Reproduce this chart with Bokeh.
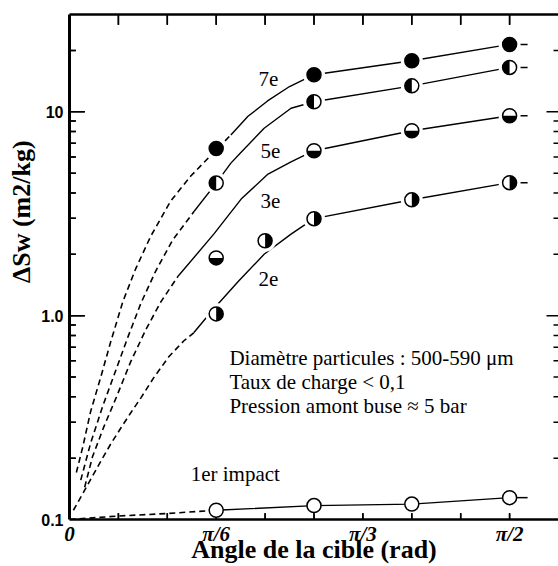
import numpy as np
from bokeh.plotting import figure
from bokeh.models import FixedTicker, LinearAxis
from bokeh.core.properties import value
from bokeh.embed import file_html
from bokeh.resources import INLINE

# ---------------- data (angle in degrees, ΔSw in m2/kg) ----------------
angle_deg = [30, 50, 70, 90]
impact7_sw = [6.6, 15.2, 17.8, 21.4]
impact5_sw = [4.47, 11.2, 13.4, 16.5]
impact3_sw = [1.92, 6.44, 8.07, 9.56]
impact2_deg = [30, 40, 50, 70, 90]
impact2_sw = [1.02, 2.33, 2.99, 3.70, 4.49]
impact1_sw = [0.111, 0.117, 0.119, 0.128]

# hand-drawn trend curves (dashed extrapolation + solid part)
fit7_dash_deg = [1.4, 2.7, 4.3, 6.4, 8.4, 10.9, 13.5, 16.6, 20.7, 24.8, 30, 33]
fit7_dash_sw = [0.17, 0.226, 0.337, 0.50, 0.74, 1.17, 1.69, 2.45, 3.65, 4.84, 6.5, 7.7]
fit7_solid_deg = [33, 36.5, 40.5, 45, 50, 70, 90]
fit7_solid_sw = [7.7, 9.5, 11.3, 13.3, 15.2, 17.8, 21.4]

fit5_dash_deg = [2.3, 4.3, 6.8, 9.6, 11.9, 14.6, 17.6, 21.1, 25.5]
fit5_dash_sw = [0.156, 0.236, 0.36, 0.55, 0.78, 1.15, 1.65, 2.35, 3.25]
fit5_solid_deg = [25.5, 30, 33, 35, 39.8, 45.3, 50, 70, 90]
fit5_solid_sw = [3.25, 4.47, 5.6, 6.3, 8.3, 10.4, 11.2, 13.4, 16.5]

fit3_dash_deg = [3.1, 4.7, 7.0, 9.6, 12.5, 15.6, 18.7, 22.2]
fit3_dash_sw = [0.144, 0.203, 0.284, 0.399, 0.593, 0.853, 1.17, 1.56]
fit3_solid_deg = [22.2, 29.5, 35.1, 40.6, 45.3, 50, 70, 90]
fit3_solid_sw = [1.56, 2.51, 3.73, 4.95, 5.68, 6.44, 8.07, 9.56]

fit2_dash_deg = [0.8, 2.7, 4.3, 6.4, 8.4, 10.5, 12.5, 14.6, 17.2, 20.3, 23.4, 25.4]
fit2_dash_sw = [0.111, 0.134, 0.157, 0.193, 0.234, 0.281, 0.333, 0.395, 0.495, 0.628, 0.753, 0.824]
fit2_solid_deg = [25.4, 29.5, 34.5, 39.8, 45.3, 50, 70, 90]
fit2_solid_sw = [0.824, 1.08, 1.47, 2.0, 2.51, 2.99, 3.70, 4.49]

fit1_dash_deg = [0, 10, 20, 30]
fit1_dash_sw = [0.1, 0.104, 0.107, 0.111]
fit1_solid_deg = [30, 50, 70, 90]
fit1_solid_sw = [0.111, 0.117, 0.119, 0.128]

curve_label_txt = ["7e", "5e", "3e", "2e", "1er impact"]
curve_label_deg = [40.7, 41.1, 41.1, 40.7, 33.9]
curve_label_sw = [14.5, 6.44, 3.66, 1.52, 0.168]

note_txt = ["Diamètre particules : 500-590 μm", "Taux de charge < 0,1", "Pression amont buse ≈ 5 bar"]
note_deg = [32.7, 32.7, 32.7]
note_sw = [0.622, 0.474, 0.362]

x_major = [0, 30, 60, 90]
x_labels = ["0", "π/6", "π/3", "π/2"]
x_minor = [10, 20, 40, 50, 70, 80]
top_ticks = [10, 20, 30, 40, 50, 60, 70, 80, 90]
y_major = [0.1, 1, 10]
y_labels = ["0.1", "1.0", "10"]
y_minor = [0.2, 0.3, 0.4, 0.5, 0.6, 0.7, 0.8, 0.9, 2, 3, 4, 5, 6, 7, 8, 9, 20]

x_title = "Angle de la cible (rad)"
y_title = "ΔSw (m2/kg)"

X_MIN, X_MAX = 0, 100
Y_MIN, Y_MAX = 0.1, 30

# ---------------- figure ----------------
SERIF = "Liberation Serif"
W, H = 558, 566
B_LEFT, B_RIGHT, B_TOP, B_BOTTOM = 69, 0, 14, 47
p = figure(width=W, height=H, x_range=(X_MIN, X_MAX), y_range=(Y_MIN, Y_MAX),
           y_axis_type="log", output_backend="svg", toolbar_location=None,
           min_border_left=B_LEFT, min_border_right=B_RIGHT, min_border_top=B_TOP,
           min_border_bottom=B_BOTTOM, background_fill_color="white",
           border_fill_color="white")
p.outline_line_color = None
p.xgrid.visible = False
p.ygrid.visible = False


def no_ticks(ax):
    ax.major_tick_in = 0
    ax.major_tick_out = 0
    ax.minor_tick_in = 0
    ax.minor_tick_out = 0


xa = p.xaxis[0]
xa.ticker = FixedTicker(ticks=x_major, minor_ticks=x_minor)
xa.major_label_overrides = {t: l for t, l in zip(x_major, x_labels)}
no_ticks(xa)
xa.axis_line_width = 2.5
xa.major_label_text_font = SERIF
xa.major_label_text_font_style = "bold italic"
xa.major_label_text_font_size = "21px"
xa.major_label_text_color = "black"
xa.major_label_standoff = 2
xa.axis_label = x_title
xa.axis_label_text_font = SERIF
xa.axis_label_text_font_style = "bold"
xa.axis_label_text_font_size = "26px"
xa.axis_label_text_color = "black"
xa.axis_label_standoff = -14

ya = p.yaxis[0]
ya.ticker = FixedTicker(ticks=y_major, minor_ticks=y_minor)
ya.major_label_overrides = {t: l for t, l in zip(y_major, y_labels)}
no_ticks(ya)
ya.axis_line_width = 3
ya.major_label_text_font = "Liberation Sans"
ya.major_label_text_font_style = "bold"
ya.major_label_text_font_size = "16px"
ya.major_label_text_color = "black"
ya.major_label_standoff = 6
ya.axis_label = "\u00a0" * 17 + y_title
ya.axis_label_text_font = SERIF
ya.axis_label_text_font_style = "bold"
ya.axis_label_text_font_size = "26px"
ya.axis_label_text_color = "black"
ya.axis_label_standoff = 2

top = LinearAxis(ticker=FixedTicker(ticks=top_ticks),
                 major_label_overrides={t: "" for t in top_ticks},
                 major_label_text_font_size="0px", major_label_standoff=0,
                 axis_line_width=2.5)
no_ticks(top)
p.add_layout(top, "above")

# ---------------- inward tick marks on the scales ----------------
px_per_deg = (W - B_LEFT - B_RIGHT) / (X_MAX - X_MIN)
px_per_dec = (H - B_TOP - B_BOTTOM) / np.log10(Y_MAX / Y_MIN)


def dx(px):
    return px / px_per_deg


def fy(px):
    return 10 ** (px / px_per_dec)


tick_x, tick_y = [], []


def add_tick(x0, y0, x1, y1):
    tick_x.extend([x0, x1, np.nan])
    tick_y.extend([y0, y1, np.nan])


for v in y_major[1:]:
    add_tick(X_MIN, v, X_MIN + dx(15), v)
    add_tick(X_MAX, v, X_MAX - dx(12), v)
for v in y_minor:
    add_tick(X_MIN, v, X_MIN + dx(6), v)
    add_tick(X_MAX, v, X_MAX - dx(5), v)
for v in x_major[1:] + x_minor:
    add_tick(v, Y_MIN, v, Y_MIN * fy(6))
for v in top_ticks:
    add_tick(v, Y_MAX, v, Y_MAX / fy(10))
p.line(np.array(tick_x), np.array(tick_y), line_color="black", line_width=1.5)

# same ticks again as dash markers placed fully inside the frame
TKM = dict(marker="dash", line_color="black", line_width=1.5)
p.scatter(x=[X_MIN + dx(8)] * 2, y=y_major[1:], size=15, angle=0, **TKM)
p.scatter(x=[X_MIN + dx(3.5)] * len(y_minor), y=y_minor, size=6, angle=0, **TKM)
xb = x_major[1:] + x_minor
p.scatter(x=xb, y=[Y_MIN * fy(3.5)] * len(xb), size=6, angle=np.pi / 2, **TKM)
p.scatter(x=top_ticks, y=[Y_MAX / fy(5.5)] * len(top_ticks), size=10, angle=np.pi / 2, **TKM)

# ---------------- curves ----------------
curves = [
    (fit7_dash_deg, fit7_dash_sw, fit7_solid_deg, fit7_solid_sw),
    (fit5_dash_deg, fit5_dash_sw, fit5_solid_deg, fit5_solid_sw),
    (fit3_dash_deg, fit3_dash_sw, fit3_solid_deg, fit3_solid_sw),
    (fit2_dash_deg, fit2_dash_sw, fit2_solid_deg, fit2_solid_sw),
    (fit1_dash_deg, fit1_dash_sw, fit1_solid_deg, fit1_solid_sw),
]
for ddx, ddy, sx, sy in curves:
    p.line(ddx, ddy, line_color="black", line_width=1.6, line_dash="6 4")
    p.line(sx, sy, line_color="black", line_width=1.4)

series = [
    (angle_deg, impact7_sw, "full"),
    (angle_deg, impact5_sw, "left"),
    (angle_deg, impact3_sw, "bottom"),
    (impact2_deg, impact2_sw, "right"),
    (angle_deg, impact1_sw, "open"),
]
# short end stubs after the last point
for xs, ys, kind in series:
    p.ray(x=[xs[-1]], y=[ys[-1]], length=18, length_units="screen", angle=0,
          line_color="black", line_width=1.5)

# halos (white gaps around markers)
for xs, ys, kind in series:
    if kind != "open":
        p.scatter(xs, ys, size=22, fill_color="white", line_color=None)

# markers
half = {"left": (np.pi / 2, 3 * np.pi / 2), "bottom": (np.pi, 2 * np.pi),
        "right": (-np.pi / 2, np.pi / 2)}
for xs, ys, kind in series:
    if kind == "full":
        p.scatter(xs, ys, size=14, fill_color="black", line_color="black", line_width=1.5)
    else:
        p.scatter(xs, ys, size=14, fill_color="white", line_color="black", line_width=1.5)
        if kind in half:
            a0, a1 = half[kind]
            p.wedge(x=xs, y=ys, radius=7, radius_units="screen", start_angle=a0,
                    end_angle=a1, fill_color="black", line_color=None)

# ---------------- texts ----------------
p.text(x=curve_label_deg, y=curve_label_sw, text=curve_label_txt,
       text_font=value(SERIF), text_font_size="21px", text_align="center",
       text_baseline="middle", text_color="black")
p.text(x=note_deg, y=note_sw, text=note_txt,
       text_font=value(SERIF), text_font_size="21px", text_align="left",
       text_baseline="middle", text_color="black")

open("out.html", "w").write(file_html(p, INLINE))
